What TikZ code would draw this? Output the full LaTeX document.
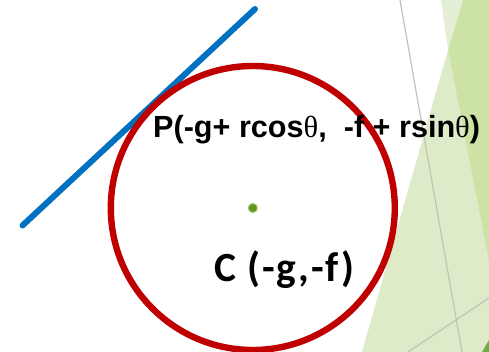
\documentclass[tikz,border=0pt]{standalone}
\usepackage{fontspec}
\setmainfont{Liberation Sans}
\newfontfamily\calib[LetterSpace=4.5]{Carlito}
\newfontfamily\symserif{Liberation Serif}
\definecolor{palegreen}{RGB}{222,235,201}
\definecolor{palertop}{RGB}{229,239,216}
\definecolor{medgreen}{RGB}{205,227,166}
\definecolor{darkgreen}{RGB}{112,173,71}
\definecolor{greyline}{RGB}{190,196,184}
\definecolor{circred}{RGB}{192,0,0}
\definecolor{lineblue}{RGB}{0,112,192}
\definecolor{dotgreen}{RGB}{96,150,30}
\definecolor{dothalo}{RGB}{150,190,90}
\tikzset{
  bgline/.style={draw=greyline, line width=1.2pt},
  circ/.style={draw=circred, line width=6.4pt},
  tangent/.style={draw=lineblue, line width=6pt, line cap=round},
  lbl/.style={inner sep=0pt, font=\bfseries},
}
\begin{document}
\begin{tikzpicture}[x=1pt,y=-1pt]
\useasboundingbox (0,0) rectangle (489,352);
% background decoration
\fill[palertop] (441,0) -- (448,50) -- (463,0) -- cycle;
\fill[palegreen] (448,50) -- (362,352) -- (489,352) -- (489,262) -- cycle;
\fill[medgreen] (463,0) -- (448,50) -- (489,262) -- (489,0) -- cycle;
\fill[darkgreen] (482,352) -- (489,340) -- (489,352) -- cycle;
\coordinate (g1a) at (400,0);
\coordinate (g1b) at (462,352);
\coordinate (g2a) at (408,352);
\coordinate (g2b) at (489,298);
\draw[bgline] (g1a) -- (g1b);
\draw[bgline] (g2a) -- (g2b);
% tangent line
\coordinate (ta) at (22.5,225.5);
\coordinate (tb) at (255,9);
\draw[tangent] (ta) -- (tb);
% circle
\coordinate (C) at (252.8,208);
\draw[circ] (C) circle[radius=142pt];
\fill[dothalo] (C) circle[radius=5pt];
\fill[dotgreen] (C) circle[radius=3.8pt];
% labels
\node[lbl, anchor=base west, font=\bfseries\fontsize{30.6}{36}\selectfont] (P) at (153,138)
  {P(-g+ rcos{\mdseries\symserif θ},\ \ -f + rsin{\mdseries\symserif θ})};
\node[lbl, anchor=base west, font=\calib\bfseries\fontsize{41.5}{48}\selectfont] (Cl) at (214,281)
  {C (-g,-f)};
\end{tikzpicture}
\end{document}
